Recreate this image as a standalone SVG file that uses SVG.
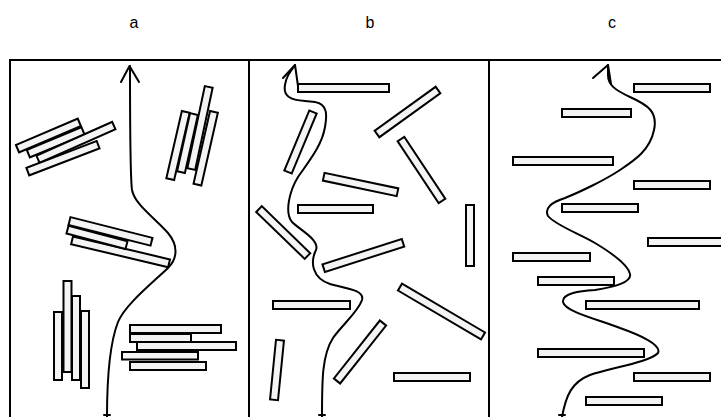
<svg xmlns="http://www.w3.org/2000/svg" width="721" height="417" viewBox="0 0 721 417">
<style>
.lbl{font-family:"Liberation Sans",Arial,sans-serif;font-size:16px;fill:#000;text-anchor:middle}
.frame{fill:none;stroke:#000;stroke-width:2}
.bar{fill:#f4f4f4;stroke:#000;stroke-width:2}
.path{fill:none;stroke:#000;stroke-width:2;stroke-linecap:round;stroke-linejoin:round}
</style>
<rect width="721" height="417" fill="#fff"/>
<g id="labels">
<text class="lbl" x="134" y="28">a</text>
<text class="lbl" x="370" y="28">b</text>
<text class="lbl" x="612" y="28">c</text>
</g>
<g id="frame" class="frame">
<line x1="9" y1="60" x2="721" y2="60"/>
<line x1="10" y1="60" x2="10" y2="417"/>
<line x1="249" y1="60" x2="249" y2="417"/>
<line x1="489" y1="60" x2="489" y2="417"/>
</g>
<g id="panel-a">
<g id="a-cluster-tl">
<rect class="bar" x="-33.6" y="-4" width="67.2" height="8" transform="translate(48.4,135.5) rotate(-23.1)"/>
<rect class="bar" x="-29.6" y="-4" width="59.2" height="8" transform="translate(55.7,142.3) rotate(-22.5)"/>
<rect class="bar" x="-41.5" y="-4" width="83" height="8" transform="translate(75.9,142.4) rotate(-24)"/>
<rect class="bar" x="-37.6" y="-4" width="75.3" height="8" transform="translate(62.9,158.2) rotate(-21)"/>
</g>
<g id="a-cluster-tr">
<rect class="bar" x="-4" y="-42" width="8" height="84" transform="translate(200,128) rotate(12)"/>
<rect class="bar" x="-4" y="-34.5" width="8" height="69" transform="translate(178,145.5) rotate(13)"/>
<rect class="bar" x="-4" y="-29.7" width="8" height="59.5" transform="translate(187.5,143) rotate(12.6)"/>
<rect class="bar" x="-4" y="-37.2" width="8" height="74.5" transform="translate(205.7,148.2) rotate(12.8)"/>
</g>
<g id="a-cluster-mid">
<rect class="bar" x="-49.8" y="-4" width="99.7" height="8" transform="translate(120.5,251.8) rotate(13.3)"/>
<rect class="bar" x="-30.5" y="-4" width="61" height="8" transform="translate(97,237.3) rotate(14.7)"/>
<rect class="bar" x="-42.3" y="-4" width="84.6" height="8" transform="translate(110.5,231.4) rotate(14.2)"/>
</g>
<g id="a-cluster-bl">
<rect class="bar" x="54" y="312" width="8" height="68"/>
<rect class="bar" x="63.5" y="281" width="8" height="91"/>
<rect class="bar" x="72" y="296" width="8" height="84"/>
<rect class="bar" x="81" y="311" width="8" height="77"/>
</g>
<g id="a-cluster-br">
<rect class="bar" x="130" y="325" width="91" height="8"/>
<rect class="bar" x="130" y="334" width="61" height="8"/>
<rect class="bar" x="137" y="342" width="99" height="8"/>
<rect class="bar" x="122" y="352" width="76" height="7.5"/>
<rect class="bar" x="130" y="362" width="76" height="8"/>
</g>
</g>
<g id="panel-b">
<rect class="bar" x="298" y="84" width="91" height="8"/>
<rect class="bar" x="-37.6" y="-4" width="75.2" height="8" transform="translate(407.5,112) rotate(-35.8)"/>
<rect class="bar" x="-32.5" y="-4" width="65" height="8" transform="translate(300.5,142) rotate(-67.4)"/>
<rect class="bar" x="-37.2" y="-4" width="74.3" height="8" transform="translate(421.5,170) rotate(56.5)"/>
<rect class="bar" x="-37.7" y="-4" width="75.4" height="8" transform="translate(360.6,184.5) rotate(11.9)"/>
<rect class="bar" x="298" y="205" width="75" height="8"/>
<rect class="bar" x="-33.7" y="-4" width="67.5" height="8" transform="translate(283.2,232.5) rotate(44.1)"/>
<rect class="bar" x="466" y="205" width="8" height="61"/>
<rect class="bar" x="-41.6" y="-4" width="83.3" height="8" transform="translate(363.3,255.5) rotate(-17.8)"/>
<rect class="bar" x="-48.2" y="-4" width="96.4" height="8" transform="translate(441.5,311.5) rotate(30.5)"/>
<rect class="bar" x="273" y="301" width="77" height="8"/>
<rect class="bar" x="-4" y="-30" width="8" height="60" transform="translate(277,370) rotate(5.7)"/>
<rect class="bar" x="-37" y="-4" width="74" height="8" transform="translate(360,352) rotate(-51.6)"/>
<rect class="bar" x="394" y="373" width="76" height="8"/>
</g>
<g id="panel-c">
<rect class="bar" x="634" y="84" width="76" height="8"/>
<rect class="bar" x="562" y="109" width="69" height="8"/>
<rect class="bar" x="513" y="157" width="100" height="8"/>
<rect class="bar" x="634" y="181" width="76" height="8"/>
<rect class="bar" x="562" y="204" width="76" height="8"/>
<rect class="bar" x="648" y="238" width="80" height="8"/>
<rect class="bar" x="513" y="253" width="77" height="8"/>
<rect class="bar" x="538" y="277" width="76" height="8"/>
<rect class="bar" x="586" y="301" width="113" height="8"/>
<rect class="bar" x="538" y="349" width="106" height="8"/>
<rect class="bar" x="634" y="373" width="76" height="8"/>
<rect class="bar" x="586" y="397" width="76" height="8"/>
</g>
<g id="connectors">
<path class="path" d="M107,417 C107,380 109,345 118,322 C125,305 150,285 168,268 C178,258 178,245 168,233 C155,218 135,205 132,190 C130,175 130,120 130,66"/>
<path class="path" d="M121,82 L129.5,66 L139,82"/>
<path class="path" d="M104,415 L110,415"/>
<path class="path" d="M322,417 C322,380 322,355 333,338 C342,325 358,312 362,300 C365,290 345,288 330,284 C312,278 310,262 316,250 C320,240 300,230 292,222 C284,212 290,190 298,177 C310,160 322,145 325,127 C327,116 328,104 315,102 L305,101 C290,100 283,96 285,85 C286,77 290,72 295,65"/>
<path class="path" d="M283,78 L295,65 L298,86"/>
<path class="path" d="M319,415 L325,415"/>
<path class="path" d="M562,417 C566,395 572,382 590,375 C610,368 650,362 658,353 C662,345 640,335 620,328 C600,320 565,312 563,302 C562,293 580,291 595,290 C615,287 632,282 630,274 C628,265 610,252 595,243 C580,234 555,225 548,216 C544,208 552,202 565,198 C580,192 605,180 620,170 C635,160 650,150 654,130 C658,112 648,105 630,97 C615,90 608,85 608,75 L608,65"/>
<path class="path" d="M593,78 L608,65 L611,84"/>
<path class="path" d="M559,415 L565,415"/>
</g>
</svg>
